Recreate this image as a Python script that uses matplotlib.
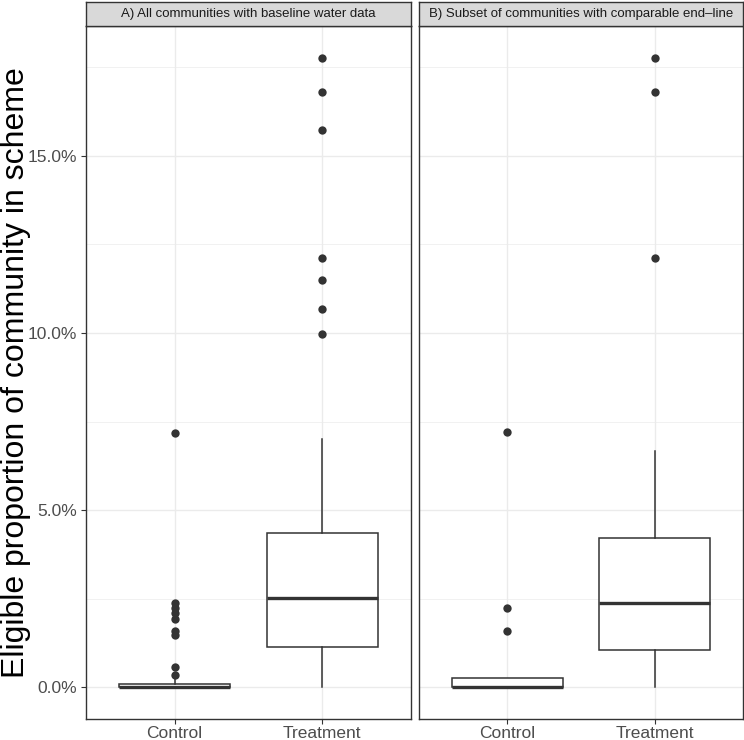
import matplotlib
matplotlib.use("Agg")
import matplotlib.pyplot as plt
from matplotlib.ticker import FuncFormatter, FixedLocator

plt.rcParams['font.family'] = ['Liberation Sans', 'DejaVu Sans']

# box statistics (percent)
groups = ["Control", "Treatment"]
facet_titles = ["A) All communities with baseline water data",
                "B) Subset of communities with comparable end\u2013line"]

a_q1 = [0.0, 1.13]
a_med = [0.0, 2.51]
a_q3 = [0.11, 4.37]
a_lo = [0.0, 0.0]
a_hi = [0.25, 7.0]
a_fliers = [[0.34, 0.57, 1.47, 1.60, 1.92, 2.09, 2.23, 2.37, 7.18],
            [9.97, 10.68, 11.50, 12.12, 15.73, 16.80, 17.77]]

b_q1 = [0.0, 1.05]
b_med = [0.0, 2.37]
b_q3 = [0.28, 4.21]
b_lo = [0.0, 0.0]
b_hi = [0.28, 6.67]
b_fliers = [[1.58, 2.23, 7.20],
            [12.12, 16.80, 17.77]]

major_ticks = [0, 5, 10, 15]
minor_ticks = [2.5, 7.5, 12.5, 17.5]

W, H = 744, 740
fig = plt.figure(figsize=(W / 100, H / 100), dpi=100)

dark = '#333333'


def make_stats(q1, med, q3, lo, hi, fliers):
    out = []
    for i in range(len(q1)):
        out.append(dict(q1=q1[i], med=med[i], q3=q3[i], whislo=lo[i],
                        whishi=hi[i], fliers=fliers[i], label=groups[i]))
    return out


panels = [
    (86, 411, make_stats(a_q1, a_med, a_q3, a_lo, a_hi, a_fliers)),
    (419, 743, make_stats(b_q1, b_med, b_q3, b_lo, b_hi, b_fliers)),
]
top, bottom, strip_top = 26, 719, 2

for k, (x0, x1, stats) in enumerate(panels):
    ax = fig.add_axes([x0 / W, (H - bottom) / H, (x1 - x0) / W, (bottom - top) / H])
    ax.set_xlim(0.4, 2.6)
    ax.set_ylim(-0.89, 18.66)
    ax.yaxis.set_major_locator(FixedLocator(major_ticks))
    ax.yaxis.set_minor_locator(FixedLocator(minor_ticks))
    ax.grid(True, which='major', color='#ebebeb', linewidth=1.0, zorder=0)
    ax.grid(True, which='minor', axis='y', color='#ebebeb', linewidth=0.5, zorder=0)
    ax.set_axisbelow(True)

    ax.bxp(stats, positions=[1, 2], widths=0.75, patch_artist=True,
           showcaps=False,
           boxprops=dict(facecolor='white', edgecolor=dark, linewidth=1.1),
           medianprops=dict(color=dark, linewidth=2.4, solid_capstyle='butt'),
           whiskerprops=dict(color=dark, linewidth=1.1),
           flierprops=dict(marker='o', markerfacecolor=dark,
                           markeredgecolor='none', markersize=6))

    ax.set_xticks([1, 2])
    ax.set_xticklabels(groups)
    ax.tick_params(axis='both', which='major', length=3.5, width=0.8,
                   color=dark, labelcolor='#4d4d4d', labelsize=12.5, pad=3)
    ax.tick_params(axis='x', which='major', pad=1.5)
    ax.tick_params(axis='y', which='minor', length=0)
    if k == 0:
        ax.yaxis.set_major_formatter(FuncFormatter(lambda v, p: f"{v:.1f}%"))
    else:
        ax.tick_params(axis='y', which='major', length=0, labelleft=False)
    for s in ax.spines.values():
        s.set_color(dark)
        s.set_linewidth(1.0)
    ax.set_xlim(0.4, 2.6)

    # facet strip
    sax = fig.add_axes([x0 / W, (H - top) / H, (x1 - x0) / W, (top - strip_top) / H])
    sax.set_facecolor('#d9d9d9')
    sax.set_xticks([])
    sax.set_yticks([])
    for s in sax.spines.values():
        s.set_color(dark)
        s.set_linewidth(1.0)
    sax.text(0.5, 0.5, facet_titles[k], ha='center', va='center',
             fontsize=9.5, color='#1a1a1a', transform=sax.transAxes)

fig.text(16 / W, (H - (top + bottom) / 2) / H, "Eligible proportion of community in scheme",
         rotation=90, ha='center', va='center', fontsize=23, color='black')

fig.savefig("out.png", dpi=100)
